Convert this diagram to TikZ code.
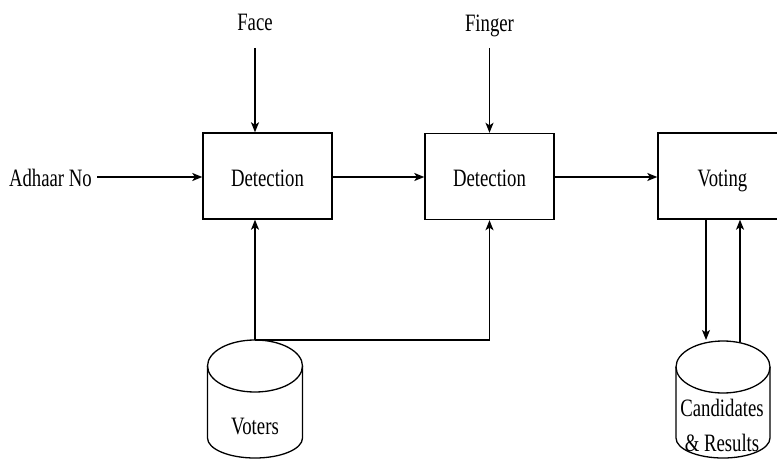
\documentclass[tikz,border=0pt]{standalone}
\usepackage{fontspec}
\setmainfont[FakeStretch=0.75]{Liberation Serif}
\usetikzlibrary{arrows.meta}
\begin{document}
\begin{tikzpicture}[x=1pt,y=-1pt,
  txt/.style={font=\fontsize{25}{35}\selectfont, inner sep=2pt},
  box/.style={draw, line width=1.4pt, minimum width=129pt, minimum height=86pt, inner sep=0pt, text height=20pt, text depth=0pt, font=\fontsize{25}{35}\selectfont},
  arr/.style={line width=1.2pt, -{Stealth[length=10pt,width=8pt,inset=2.5pt]}},
  cyl/.style={line width=1.3pt}]
\useasboundingbox (0,0) rectangle (777,460);

% boxes
\node[box] (box1) at (267.5,176) {Detection};
\node[box] (box2) at (489.5,176.5) {Detection};
\node[box] (box3) at (722.5,176) {Voting};

% labels
\node[txt, anchor=base] (face) at (255,31) {Face};
\node[txt, anchor=base] (finger) at (489.5,32) {Finger};
\node[txt, anchor=base east] (adhaar) at (94,186) {Adhaar No};
\coordinate (facein) at (255,48);
\coordinate (fingerin) at (489.5,48);
\coordinate (adhaarout) at (97,177);

% voters cylinder
\draw[cyl] (207.5,366) -- (207.5,438) arc[start angle=180, end angle=0, x radius=47.5, y radius=20] -- (302.5,366);
\draw[cyl] (255,366) ellipse[x radius=47.5, y radius=26];
\node[txt, anchor=base] (voters) at (255,434) {Voters};
\coordinate (vtop) at (255,340);

% candidates cylinder
\draw[cyl] (676,367) -- (676,438) arc[start angle=180, end angle=0, x radius=47, y radius=20] -- (770,367);
\draw[cyl] (723,367) ellipse[x radius=47, y radius=26];
\node[txt, align=center, anchor=base] (cand) at (722,451) {Candidates\\\& Results};
\coordinate (cdown) at (706,340);
\coordinate (cup) at (740,342);

% connectors
\draw[arr] (facein) -- (facein |- box1.north);
\draw[arr] (fingerin) -- (box2.north);
\draw[arr] (adhaarout) -- (adhaarout -| box1.west);
\draw[arr] (box1.east |- adhaarout) -- (adhaarout -| box2.west);
\draw[arr] (box2.east |- adhaarout) -- (adhaarout -| box3.west);
\draw[arr] (vtop) -- (vtop |- box1.south);
\draw[arr] (vtop) -| (box2.south);
\draw[arr] (cdown |- box3.south) -- (cdown);
\draw[arr] (cup) -- (cup |- box3.south);
\end{tikzpicture}
\end{document}
